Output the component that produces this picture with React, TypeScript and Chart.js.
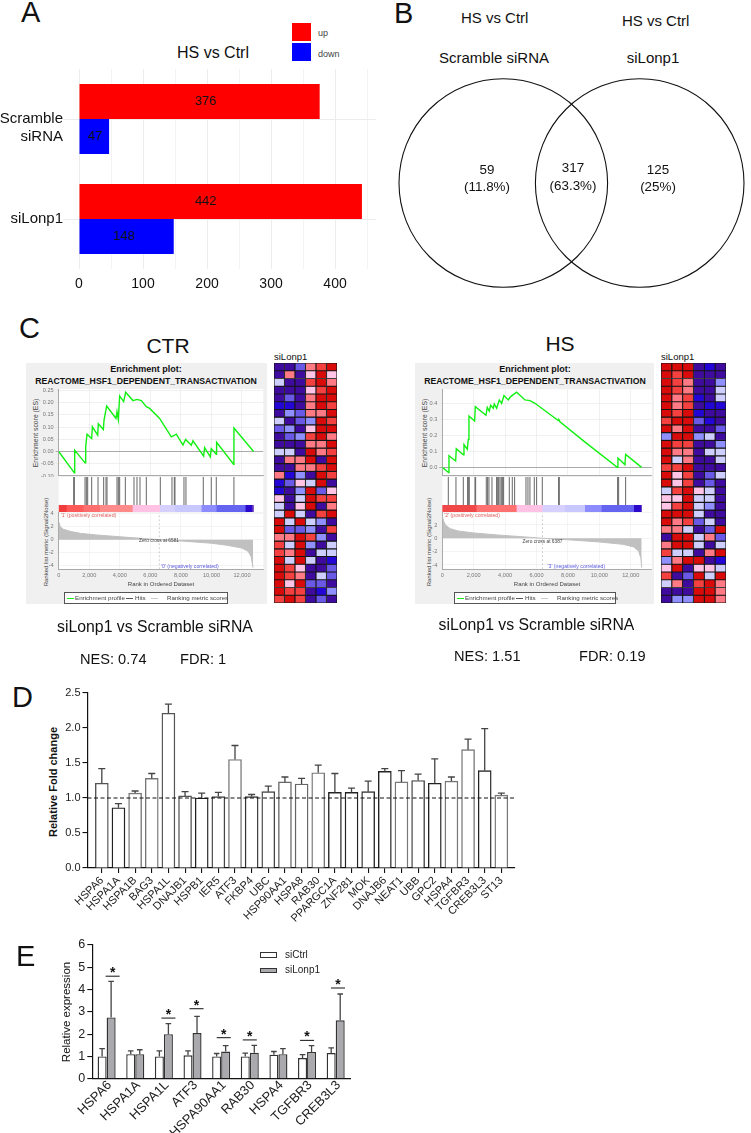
import React, { useEffect, useRef } from "react";
import { Chart, registerables } from "chart.js";

Chart.register(...registerables);

const FONT = '"Liberation Sans", Arial, sans-serif';
Chart.defaults.font.family = FONT;
Chart.defaults.animation = false as any;

// ---------- Panel A ----------
const aCategories = [["", "Scramble", "siRNA"], "siLonp1"];
const aUp = [376, 442];
const aDown = [47, 148];
const aUpLabelAt = [198, 198];
const aDownLabelAt = [25, 70];
const aTicks = [0, 50, 100, 150, 200, 250, 300, 350, 400, 450];

// ---------- Panel B ----------
const vennCenters = [0, 136.4];

// ---------- Panel C ----------
const rankTicks = [0, 2000, 4000, 6000, 8000, 10000, 12000];
const ctrMetricTicks = [-4, -2, 0, 2, 4];
const hsMetricTicks = [-4, -2, 0, 2];
const ctrEsTicks = [-0.1, -0.05, 0, 0.05, 0.1, 0.15, 0.2, 0.25];
const hsEsTicks = [0, 0.1, 0.2, 0.3, 0.4];
const ctrEsRank = [0, 1025, 1047, 1723, 1767, 1854, 2159, 2203, 2552, 2595, 2923, 2966, 3141, 3751, 3817, 3904, 3991, 4253, 4384, 4864, 5125, 5409, 5736, 5954, 6608, 7372, 7590, 7699, 8135, 8309, 8680, 8789, 9487, 9553, 9924, 9989, 10316, 10338, 11450, 11472, 12759];
const ctrEsValue = [0, -0.0874, 0.0055, -0.0464, 0.019, 0.071, 0.053, 0.101, 0.067, 0.113, 0.09, 0.127, 0.186, 0.135, 0.163, 0.131, 0.227, 0.204, 0.242, 0.208, 0.213, 0.208, 0.183, 0.176, 0.135, 0.06, 0.067, 0.071, 0.026, 0.049, 0.026, 0.044, -0.019, 0.016, -0.022, 0.012, -0.011, 0.038, -0.052, 0.096, 0];
const ctrHits = [981, 1025, 1723, 1810, 1897, 2159, 2574, 2944, 3097, 3162, 3817, 3904, 3991, 4362, 4929, 5125, 5322, 5736, 6652, 7415, 7568, 7612, 8201, 8331, 9466, 9989, 10316, 11472];
const ctrStripWidths = [502, 1090, 1090, 2137, 1788, 981, 1745, 981, 1897, 436, 109];
const ctrStripColors = ["#f03c3c", "#ff5a5a", "#ff6f6f", "#ff8a8a", "#ffc2e4", "#d6d0ff", "#c8c8ff", "#8c8cff", "#6464f0", "#2a08cc", "#7040c0"];
const ctrRankX = [0, 100, 300, 800, 1500, 2500, 4000, 6000, 6581, 8000, 10000, 11000, 12000, 12400, 12600, 12720];
const ctrRankY = [2.8, 2.0, 1.6, 1.25, 0.95, 0.72, 0.45, 0.1, 0, -0.2, -0.55, -0.85, -1.3, -1.8, -2.6, -4.3];

const hsEsRank = [0, 403, 425, 849, 892, 1337, 1380, 1592, 1656, 1698, 2059, 2102, 2781, 2866, 2993, 3078, 3248, 3312, 3460, 3630, 3779, 3928, 4204, 4352, 4734, 5265, 5583, 5902, 7388, 7430, 7494, 9193, 11146, 11188, 11634, 11677, 12695];
const hsEsValue = [0, -0.033, 0.073, 0.04, 0.117, 0.079, 0.142, 0.113, 0.175, 0.321, 0.29, 0.379, 0.325, 0.375, 0.352, 0.3875, 0.369, 0.396, 0.369, 0.421, 0.4, 0.448, 0.421, 0.442, 0.469, 0.421, 0.417, 0.4, 0.292, 0.296, 0.285, 0.15, 0, 0.058, 0.017, 0.081, 0];
const hsHits = [382, 870, 1337, 1613, 1656, 1720, 2081, 2123, 2802, 2887, 2972, 3163, 3460, 3503, 3588, 3673, 3758, 3843, 3906, 4267, 4458, 4607, 5329, 5456, 5583, 5859, 6008, 6369, 7409, 7452, 11167, 11231, 11677];
const hsStripWidths = [2165, 2548, 1635, 1444, 1274, 1062, 2059, 446, 64];
const hsStripColors = ["#f04848", "#ff7070", "#ffc2e4", "#d6d0ff", "#c8c8ff", "#8c8cff", "#6464f0", "#2a08cc", "#7040c0"];
const hsRankX = [0, 80, 200, 500, 1000, 2000, 3500, 5000, 6387, 8000, 10000, 11500, 12200, 12500, 12650, 12700];
const hsRankY = [3.4, 2.6, 2, 1.45, 1.1, 0.8, 0.5, 0.25, 0, -0.22, -0.55, -0.9, -1.3, -1.9, -3, -4.4];

const heatLevels: Record<string, string> = {
  "-4": "#3f0b9f", "-3": "#2306d6", "-2": "#6a58e6", "-1": "#8f8fff", "0": "#cfcfff",
  "1": "#ffc4e6", "2": "#ff7a84", "3": "#f54040", "4": "#d80a0a",
};
const heatCols = ["c1", "c2", "c3", "s1", "s2", "s3"];
const ctrHeat = [
  [-4, -4, -2, 2, 3, 4], [-4, 2, -4, 1, 4, 1], [0, -4, -4, 3, 4, 2], [-4, -4, -4, 1, 3, 4], [-4, -2, -4, 2, 4, 4],
  [-3, -3, -4, 2, 4, 3], [-4, -1, -2, 2, 2, 4], [0, -4, -2, -1, 4, 3], [-2, -1, -4, 1, 4, 4], [-4, -2, -1, 3, 4, 2],
  [-4, -4, -4, 2, 2, 4], [0, 0, -4, 4, 2, 3], [-4, 2, 2, 4, -4, 4], [-4, -4, 2, 2, 3, 4], [2, -3, -1, -4, 4, 3],
  [-3, -2, 1, 0, 4, -4], [-3, -4, -1, 4, -2, 1], [1, -4, 0, 4, 3, 3], [0, -4, 1, 4, -4, 2], [0, 4, 0, -4, 3, 4],
  [4, 0, 4, 0, -1, -4], [4, -2, -2, -1, -4, 3], [2, 2, 4, 3, -1, -4], [3, 0, 4, -1, -4, 0], [3, 2, 4, -4, 0, 0],
  [4, 0, 4, 0, -4, -3], [4, 3, 1, -4, -4, -2], [4, 3, 2, -4, 0, -2], [4, 1, 4, -2, -2, -4], [4, 3, 3, -4, -3, -1],
  [3, 4, 3, -4, -2, -4],
];
const hsHeat = [
  [4, 4, 4, -4, -3, -4], [4, 3, 4, -4, -4, -4], [4, 3, 2, -4, -4, -1], [4, 3, 2, -4, -4, 0], [4, 2, 3, -3, -4, 0],
  [4, 2, 3, -4, -3, -3], [4, 3, 4, -3, -4, -4], [3, 4, 4, -2, -3, -4], [4, 2, 4, -4, -4, -2], [-1, 4, 4, -1, 0, -4],
  [4, 3, 3, -4, -4, -1], [4, 2, 2, -4, 0, 0], [4, 0, 2, -4, -4, 0], [3, 3, 4, -4, -4, -4], [4, 1, 3, -4, -2, 0],
  [4, 1, 3, -4, -2, -4], [0, 3, 4, 1, 0, -4], [1, 1, 4, 0, 0, -4], [1, 3, 4, 0, -1, -4], [4, 4, 4, 0, -4, -4],
  [4, 2, 3, -2, 0, -4], [2, 2, 0, -4, -2, 4], [-4, 4, 4, 0, 2, -2], [2, 4, 4, 0, -4, 0], [3, 0, 0, -4, 2, 4],
  [-1, 2, 4, 4, -4, -3], [1, 4, -4, 1, 1, 0], [3, -4, -2, 4, 0, 4], [0, 2, -4, 3, 4, 2], [-4, -4, -4, 4, 4, 2],
  [-4, -1, -1, 4, 4, 2],
];

// ---------- Panel D ----------
const dGenes = ["HSPA6", "HSPA1A", "HSPA1B", "BAG3", "HSPA1L", "DNAJB1", "HSPB1", "IER5", "ATF3", "FKBP4", "UBC", "HSP90AA1", "HSPA8", "RAB30", "PPARGC1A", "ZNF281", "MOK", "DNAJB6", "NEAT1", "UBB", "GPC2", "HSPA4", "TGFBR3", "CREB3L3", "ST13"];
const dValues = [1.21, 0.86, 1.07, 1.28, 2.21, 1.03, 1.0, 1.02, 1.55, 1.02, 1.09, 1.23, 1.2, 1.36, 1.08, 1.08, 1.09, 1.38, 1.23, 1.25, 1.21, 1.24, 1.69, 1.39, 1.04];
const dErrTop = [1.42, 0.92, 1.1, 1.35, 2.34, 1.09, 1.07, 1.08, 1.75, 1.05, 1.17, 1.3, 1.28, 1.47, 1.35, 1.14, 1.24, 1.42, 1.39, 1.34, 1.56, 1.3, 1.84, 1.99, 1.07];
const dBorders = ["#555", "#222", "#777", "#777", "#555", "#555", "#222", "#444", "#777", "#333", "#444", "#666", "#666", "#777", "#222", "#222", "#333", "#222", "#777", "#444", "#222", "#777", "#777", "#222", "#777"];

// ---------- Panel E ----------
const eGenes = ["HSPA6", "HSPA1A", "HSPA1L", "ATF3", "HSPA90AA1", "RAB30", "HSPA4", "TGFBR3", "CREB3L3"];
const eCtrl = [1.0, 1.1, 1.0, 1.05, 1.0, 1.0, 1.08, 0.93, 1.15];
const eCtrlTop = [1.35, 1.25, 1.25, 1.25, 1.13, 1.15, 1.22, 1.08, 1.38];
const eLonp = [2.75, 1.1, 2.0, 2.05, 1.22, 1.17, 1.1, 1.2, 2.62];
const eLonpTop = [4.37, 1.3, 2.47, 2.8, 1.48, 1.5, 1.35, 1.48, 3.8];
const eSigCategory = [0, 2, 3, 4, 5, 7, 8];
const eSigOffset = [0.21, 0.16, 0.14, 0.09, 0, 0, 0.08];
const eSigLevel = [4.6, 2.72, 3.14, 1.84, 1.74, 1.72, 4.07];

// ---------- helpers ----------
const fit = (w?: number, h?: number) => ({
  afterFit: (s: any) => {
    if (w !== undefined) s.width = w;
    if (h !== undefined) s.height = h;
    s.paddingTop = 0;
    s.paddingBottom = 0;
    s.paddingLeft = 0;
    s.paddingRight = 0;
  },
});
const setTicks = (arr: number[]) => ({
  afterBuildTicks: (s: any) => { s.ticks = arr.map((value) => ({ value })); },
});

function Plot({ x, y, w, h, config }: any) {
  const ref = useRef<HTMLCanvasElement>(null);
  useEffect(() => {
    const c = new Chart(ref.current as any, config);
    return () => c.destroy();
  }, []);
  return <canvas ref={ref} width={w} height={h} style={{ position: "absolute", left: x, top: y, width: w, height: h }} />;
}

function T({ x, y, s, children, a = "c", r = 0, c = "#111", b = false }: any) {
  const tx = a === "c" ? "-50%" : a === "l" ? "0" : "-100%";
  return (
    <div style={{ position: "absolute", left: x, top: y, fontFamily: FONT, fontSize: s, color: c, fontWeight: b ? 700 : 400, whiteSpace: "pre", lineHeight: 1,
      transform: `translate(${tx},-50%) rotate(${r}deg)`, transformOrigin: a === "l" ? "left center" : "center" }}>
      {children}
    </div>
  );
}

const Box = ({ x, y, w, h, bg, border }: any) => (
  <div style={{ position: "absolute", left: x, top: y, width: w, height: h, background: bg, border: border || "none", boxSizing: "border-box" }} />
);

const plotBg = {
  id: "plotBg",
  beforeDraw(ch: any) {
    const { ctx, chartArea: a } = ch;
    ctx.save();
    ctx.fillStyle = "#fff";
    ctx.fillRect(a.left, a.top, a.width, a.height);
    ctx.restore();
  },
};

const errBars = (tops: number[][], color = "#333", cap = 3.5) => ({
  id: "errBars",
  afterDatasetsDraw(ch: any) {
    const { ctx } = ch;
    const ys = ch.scales.y;
    ctx.save();
    ctx.strokeStyle = color;
    ctx.lineWidth = 1.3;
    tops.forEach((arr, di) => {
      ch.getDatasetMeta(di).data.forEach((el: any, i: number) => {
        const t = ys.getPixelForValue(arr[i]);
        ctx.beginPath();
        ctx.moveTo(el.x, el.y);
        ctx.lineTo(el.x, t);
        ctx.moveTo(el.x - cap, t);
        ctx.lineTo(el.x + cap, t);
        ctx.stroke();
      });
    });
    ctx.restore();
  },
});

// ---------- Panel configs ----------
const commonOpts = { responsive: false, animation: false, layout: { autoPadding: false }, plugins: { legend: { display: false }, tooltip: { enabled: false } } };

const barLabels = {
  id: "barLabels",
  afterDatasetsDraw(ch: any) {
    const { ctx, scales } = ch;
    ctx.save();
    ctx.fillStyle = "#111";
    ctx.font = `13px ${FONT}`;
    ctx.textAlign = "center";
    ctx.textBaseline = "middle";
    [aUp, aDown].forEach((arr, di) => {
      const at = di === 0 ? aUpLabelAt : aDownLabelAt;
      ch.getDatasetMeta(di).data.forEach((el: any, i: number) => {
        ctx.fillText(String(arr[i]), scales.x.getPixelForValue(at[i]), el.y);
      });
    });
    ctx.restore();
  },
};

const panelA: any = {
  type: "bar",
  data: {
    labels: aCategories,
    datasets: [
      { label: "up", data: aUp, backgroundColor: "#ff0000" },
      { label: "down", data: aDown, backgroundColor: "#0000ff" },
    ],
  },
  plugins: [barLabels],
  options: {
    ...commonOpts,
    indexAxis: "y",
    layout: { autoPadding: false, padding: { top: 9, right: 14 } },
    datasets: { bar: { categoryPercentage: 0.7, barPercentage: 1 } },
    scales: {
      x: {
        min: -25, max: 464,
        ...setTicks(aTicks),
        grid: { color: (c: any) => (c.tick && c.tick.value % 100 === 0 ? "#ececec" : "#f3f3f3"), tickLength: 0 },
        border: { display: false },
        ticks: { autoSkip: false, maxRotation: 0, padding: 7, color: "#111", font: { size: 14 }, callback: (v: any) => (v % 100 === 0 ? String(v) : "") },
        ...fit(undefined, 26),
      },
      y: {
        grid: { offset: false, color: "#ececec", tickLength: 0 },
        border: { display: false },
        ticks: { padding: 0, color: "#111", font: { size: 15 } },
        ...fit(63),
      },
    },
  },
};

const panelB: any = {
  type: "scatter",
  data: {
    datasets: [{
      label: "HS vs Ctrl",
      data: vennCenters.map((x) => ({ x, y: 0 })),
      pointRadius: 104.3, borderColor: "#111", borderWidth: 1.1, backgroundColor: "transparent", clip: false,
    }],
  },
  options: {
    ...commonOpts,
    scales: { x: { display: false, min: -113.3, max: 247.7 }, y: { display: false, min: -117, max: 113 } },
  },
};

function esConfig(rank: number[], es: number[], l: number, pr: number, xMax: number, yMin: number, yMax: number, yTicks: number[], dec: number, top: number): any {
  const isZero = (c: any) => Math.abs(c.tick?.value) < 1e-6;
  return {
    type: "scatter",
    data: { datasets: [{ data: rank.map((x, i) => ({ x, y: es[i] })), showLine: true, pointRadius: 0, borderColor: "#12f012", borderWidth: 1.4 }] },
    plugins: [plotBg],
    options: {
      ...commonOpts,
      layout: { autoPadding: false, padding: { top, right: pr, bottom: 1 } },
      scales: {
        x: { min: 0, max: xMax, ...setTicks(rankTicks), ticks: { display: false }, grid: { color: "#e6e6e6", lineWidth: 0.6, tickLength: 0 }, border: { color: "#aaa" }, ...fit(undefined, 0.01) },
        y: {
          min: yMin, max: yMax,
          ...setTicks(yTicks),
          ticks: { padding: 2, color: "#777", font: { size: 5.6 }, callback: (v: any) => Number(v).toFixed(dec) },
          grid: { color: (c: any) => (isZero(c) ? "#aaa" : "#e6e6e6"), lineWidth: (c: any) => (isZero(c) ? 1 : 0.6), tickLength: 3 },
          border: { color: "#aaa" },
          ...fit(l),
        },
      },
    },
  };
}

function hitsConfig(hits: number[], l: number, pr: number, xMax: number): any {
  return {
    type: "bar",
    data: { datasets: [{ data: hits.map((x) => ({ x, y: 1 })), backgroundColor: "#666", barThickness: 1, inflateAmount: 0 }] },
    plugins: [plotBg],
    options: { ...commonOpts, layout: { autoPadding: false, padding: { left: l, right: pr } }, scales: { x: { type: "linear", offset: false, display: false, min: 0, max: xMax }, y: { display: false, min: 0, max: 1 } } },
  };
}

function stripConfig(widths: number[], colors: string[], l: number, pr: number, xMax: number): any {
  return {
    type: "bar",
    data: { labels: ["rank"], datasets: widths.map((v, i) => ({ data: [v], backgroundColor: colors[i], categoryPercentage: 1, barPercentage: 1 })) },
    plugins: [plotBg],
    options: { ...commonOpts, indexAxis: "y", layout: { autoPadding: false, padding: { left: l, right: pr } }, scales: { x: { stacked: true, display: false, min: 0, max: xMax }, y: { stacked: true, display: false } } },
  };
}

function rankConfig(xs: number[], ys: number[], zero: number, l: number, pr: number, xMax: number, yMin: number, yMax: number, yTicks: number[]): any {
  return {
    type: "scatter",
    data: {
      datasets: [
        { data: xs.map((x, i) => ({ x, y: ys[i] })), showLine: true, pointRadius: 0, borderColor: "#c0c0c0", borderWidth: 1, backgroundColor: "#c0c0c0", fill: "origin" },
        { data: [{ x: zero, y: yMin }, { x: zero, y: yMax }], showLine: true, pointRadius: 0, borderColor: "#bbb", borderWidth: 0.7, borderDash: [2, 2] },
      ],
    },
    plugins: [plotBg],
    options: {
      ...commonOpts,
      layout: { autoPadding: false, padding: { top: 4.7, right: pr } },
      scales: {
        x: { min: 0, max: xMax, ...setTicks(rankTicks), ticks: { autoSkip: false, color: "#777", font: { size: 5.6 }, padding: 1, maxRotation: 0, callback: (v: any) => Number(v).toLocaleString("en-US") },
          grid: { color: "#ececec", lineWidth: 0.6, tickLength: 2 }, border: { color: "#aaa" }, ...fit(undefined, 12.7) },
        y: { min: yMin, max: yMax,
          ...setTicks(yTicks),
          ticks: { padding: 2, color: "#777", font: { size: 5.6 } },
          grid: { color: "#ececec", lineWidth: 0.6, tickLength: 3 }, border: { color: "#aaa" }, ...fit(l) },
      },
    },
  };
}

function heatConfig(heat: number[][]): any {
  return {
    type: "bar",
    data: {
      labels: heatCols,
      datasets: heat.map((row) => ({
        data: row.map(() => 1),
        backgroundColor: row.map((v) => heatLevels[String(v)]),
        borderColor: "#151515", borderWidth: 0.9, borderSkipped: false, categoryPercentage: 1, barPercentage: 1,
      })),
    },
    options: { ...commonOpts, scales: { x: { stacked: true, display: false }, y: { stacked: true, display: false, reverse: true, min: 0, max: heat.length } } },
  };
}

const panelD: any = {
  data: {
    labels: dGenes,
    datasets: [
      { type: "bar", data: dValues.map((y, x) => ({ x, y })), backgroundColor: "#fff", borderColor: dBorders, borderWidth: 1.4, barThickness: 13, order: 2 },
      { type: "line", data: [{ x: -0.86, y: 1 }, { x: 24.82, y: 1 }], borderColor: "#111", borderWidth: 1.1, borderDash: [4, 2.5], pointRadius: 0, order: 1 },
    ],
  },
  plugins: [errBars([dErrTop], "#444")],
  options: {
    ...commonOpts,
    layout: { autoPadding: false, padding: { top: 8, right: 15 } },
    scales: {
      x: {
        type: "linear", offset: false, min: -0.86, max: 24.82,
        afterBuildTicks: (s: any) => { s.ticks = dGenes.map((_, i) => ({ value: i })); },
        ticks: { autoSkip: false, minRotation: 45, maxRotation: 45, padding: 1, color: "#222", font: { size: 11 }, callback: (v: any) => dGenes[v] },
        grid: { offset: false, drawOnChartArea: false, color: "#111", tickLength: 5, lineWidth: 1.1 },
        border: { color: "#111", width: 1.2 },
        ...fit(undefined, 72),
      },
      y: {
        min: 0, max: 2.5,
        ticks: { stepSize: 0.5, padding: 2, color: "#222", font: { size: 11 }, callback: (v: any) => Number(v).toFixed(1) },
        grid: { drawOnChartArea: false, color: "#111", tickLength: 5, lineWidth: 1.1 },
        border: { color: "#111", width: 1.2 },
        ...fit(87.5),
      },
    },
  },
};

const sigMarks = {
  id: "sigMarks",
  afterDatasetsDraw(ch: any) {
    const { ctx, scales } = ch;
    const band = scales.x.getPixelForValue(1) - scales.x.getPixelForValue(0);
    ctx.save();
    ctx.strokeStyle = "#111";
    ctx.fillStyle = "#111";
    ctx.lineWidth = 1;
    ctx.font = `bold 14px ${FONT}`;
    ctx.textAlign = "center";
    ctx.textBaseline = "middle";
    eSigCategory.forEach((c, i) => {
      const cx = scales.x.getPixelForValue(c) + eSigOffset[i] * band;
      const y = scales.y.getPixelForValue(eSigLevel[i]);
      ctx.beginPath();
      ctx.moveTo(cx - 0.245 * band, y);
      ctx.lineTo(cx + 0.245 * band, y);
      ctx.stroke();
      ctx.fillText("*", cx, y - 3);
    });
    ctx.restore();
  },
};

const panelE: any = {
  type: "bar",
  data: {
    labels: eGenes,
    datasets: [
      { label: "siCtrl", data: eCtrl, backgroundColor: "#fff", borderColor: "#333", borderWidth: 1.4 },
      { label: "siLonp1", data: eLonp, backgroundColor: "#a9a9ae", borderColor: "#333", borderWidth: 1.4 },
    ],
  },
  plugins: [errBars([eCtrlTop, eLonpTop], "#444", 2.8), sigMarks],
  options: {
    ...commonOpts,
    layout: { autoPadding: false, padding: { top: 8, right: 12 } },
    datasets: { bar: { categoryPercentage: 0.63, barPercentage: 1 } },
    scales: {
      x: {
        ticks: { autoSkip: false, minRotation: 45, maxRotation: 45, padding: -9, labelOffset: 3, color: "#222", font: { size: 13 } },
        grid: { display: false },
        border: { color: "#111", width: 1.2 },
        ...fit(undefined, 54.3),
      },
      y: {
        min: 0, max: 6,
        ticks: { stepSize: 1, padding: 2, color: "#222", font: { size: 12.5 } },
        grid: { drawOnChartArea: false, color: "#111", tickLength: 5, lineWidth: 1.1 },
        border: { color: "#111", width: 1.2 },
        ...fit(92.3),
      },
    },
  },
};

function Gsea({ o }: any) {
  const { left, right, px0, pTop, pBot, xMax } = o;
  const cw = Math.ceil(right - left) + 1;
  const pr = left + cw - right;
  const l = px0 - left;
  return (
    <>
      <Box x={pTop} y={363} w={pBot - pTop} h={241} bg="#f0f0f0" />
      <T x={o.titleX} y={369} s={9} b>Enrichment plot:</T>
      <T x={o.titleX} y={381} s={8.7} b>REACTOME_HSF1_DEPENDENT_TRANSACTIVATION</T>
      <T x={o.esTitleX} y={433} s={6.8} r={-90} c="#444">Enrichment score (ES)</T>
      <T x={o.rankTitleX} y={542} s={6} r={-90} c="#444">{o.rankTitle}</T>
      <Plot x={left} y={385} w={cw} h={92} config={esConfig(o.esX, o.esY, l, pr, xMax, o.esMin, o.esMax, o.esTicks, o.esDec, o.esTop)} />
      <Plot x={left} y={477} w={cw} h={28} config={hitsConfig(o.hits, l, pr, xMax)} />
      <Plot x={left} y={505} w={cw} h={7} config={stripConfig(o.sw, o.sc, l, pr, xMax)} />
      <Plot x={left} y={508} w={cw} h={74} config={rankConfig(o.rx, o.ry, o.zero, l, pr, xMax, o.rMin, o.rMax, o.rTicks)} />
      <T x={px0 + 2} y={516} s={5.2} a="l" c="#e06060">{o.posLabel}</T>
      <T x={o.zeroX} y={o.zeroY} s={4.8} c="#444">{o.zeroLabel}</T>
      <T x={o.negX} y={567} s={5.2} a="l" c="#5a5ae0">{o.negLabel}</T>
      <T x={o.rankXX} y={584} s={6} c="#444">Rank in Ordered Dataset</T>
      <Box x={o.legX} y={592} w={o.legW} h={11.5} bg="#fff" border="1px solid #555" />
      <div style={{ position: "absolute", left: o.legX + 2.5, top: 597.5, width: 7, height: 1.2, background: "#12f012" }} />
      <T x={o.legX + 11} y={597.8} s={6.2} a="l" c="#444">Enrichment profile</T>
      <div style={{ position: "absolute", left: o.legX + 62, top: 597.5, width: 7, height: 1, background: "#555" }} />
      <T x={o.legX + 71} y={597.8} s={6.2} a="l" c="#444">Hits</T>
      <div style={{ position: "absolute", left: o.legX + 87, top: 597.5, width: 7, height: 1, background: "#ccc" }} />
      <T x={o.legX + 103} y={597.8} s={6.2} a="l" c="#444">Ranking metric scores</T>
    </>
  );
}

const ctrPanel = {
  left: 28, right: 263.3, px0: 58.7, pTop: 26, pBot: 267, xMax: 13395, titleX: 146,
  esX: ctrEsRank, esY: ctrEsValue, esMin: -0.1, esMax: 0.2553, esTicks: ctrEsTicks, esDec: 2, esTop: 4,
  hits: ctrHits, sw: ctrStripWidths, sc: ctrStripColors, rx: ctrRankX, ry: ctrRankY, zero: 6581, rMin: -4.56, rMax: 4.15, rTicks: ctrMetricTicks,
  esTitleX: 36, rankTitleX: 45.6, rankTitle: "Ranked list metric (Signal2Noise)",
  posLabel: "'1' (positively correlated)", negLabel: "'0' (negatively correlated)", negX: 161,
  zeroLabel: "Zero cross at 6581", zeroX: 159, zeroY: 541, rankXX: 161, legX: 64, legW: 164,
};
const hsPanel = {
  left: 412, right: 651.7, px0: 442.3, pTop: 415, pBot: 654, xMax: 13338, titleX: 535,
  esX: hsEsRank, esY: hsEsValue, esMin: -0.054, esMax: 0.4875, esTicks: hsEsTicks, esDec: 1, esTop: 4.3,
  hits: hsHits, sw: hsStripWidths, sc: hsStripColors, rx: hsRankX, ry: hsRankY, zero: 6387, rMin: -4.65, rMax: 3.84, rTicks: hsMetricTicks,
  esTitleX: 425, rankTitleX: 429, rankTitle: "Ranked list metric (Signal2Noise)",
  posLabel: "'2' (positively correlated)", negLabel: "'3' (negatively correlated)", negX: 547.5,
  zeroLabel: "Zero cross at 6387", zeroX: 542.5, zeroY: 542, rankXX: 547, legX: 454, legW: 162,
};

export default function App() {
  return (
    <div style={{ position: "absolute", left: 0, top: 0, width: 751, height: 1133, overflow: "hidden", background: "#fff" }}>
      {/* A */}
      <T x={21} y={12} s={29} a="l">A</T>
      <T x={213} y={53} s={16}>HS vs Ctrl</T>
      <Box x={292} y={23} w={19} h={18} bg="#ff0000" />
      <Box x={292} y={43} w={19} h={18} bg="#0000ff" />
      <T x={318} y={33} s={9} a="l" c="#444">up</T>
      <T x={318} y={54} s={9} a="l" c="#444">down</T>
      <Plot x={0} y={60} w={390} h={235} config={panelA} />

      {/* B */}
      <T x={394} y={13} s={29} a="l">B</T>
      <T x={494.7} y={17} s={15}>HS vs Ctrl</T>
      <T x={655.7} y={20} s={15}>HS vs Ctrl</T>
      <T x={494} y={57} s={15}>Scramble siRNA</T>
      <T x={653} y={57} s={15}>siLonp1</T>
      <Plot x={390} y={70} w={361} h={230} config={panelB} />
      <T x={487} y={170} s={13.4}>59</T>
      <T x={487} y={187} s={13.4}>(11.8%)</T>
      <T x={573} y={168} s={13.4}>317</T>
      <T x={573} y={186} s={13.4}>(63.3%)</T>
      <T x={658} y={170} s={13.4}>125</T>
      <T x={658} y={187} s={13.4}>(25%)</T>

      {/* C */}
      <T x={19} y={328} s={29} a="l">C</T>
      <T x={168} y={345} s={21}>CTR</T>
      <T x={560} y={343} s={21}>HS</T>
      <Gsea o={ctrPanel} />
      <Gsea o={hsPanel} />
      <T x={274} y={357} s={9.5} a="l">siLonp1</T>
      <T x={661} y={357} s={9.5} a="l">siLonp1</T>
      <Plot x={274} y={363} w={63} h={240} config={heatConfig(ctrHeat)} />
      <Plot x={661} y={363} w={65} h={240} config={heatConfig(hsHeat)} />
      <T x={155} y={627} s={15.8}>siLonp1 vs Scramble siRNA</T>
      <T x={80} y={659} s={14.6} a="l">NES: 0.74</T>
      <T x={180} y={659} s={14.6} a="l">FDR: 1</T>
      <T x={536.5} y={625} s={15.8}>siLonp1 vs Scramble siRNA</T>
      <T x={454} y={656} s={14.6} a="l">NES: 1.51</T>
      <T x={579} y={656} s={14.6} a="l">FDR: 0.19</T>

      {/* D */}
      <T x={12} y={697} s={29} a="l">D</T>
      <T x={52.5} y={782} s={11} b r={-90}>Relative Fold change</T>
      <Plot x={0} y={685} w={530} h={255} config={panelD} />

      {/* E */}
      <T x={16} y={956} s={29} a="l">E</T>
      <T x={66.7} y={1012} s={11.5} r={-90}>Relative expression</T>
      <Plot x={0} y={937} w={362} h={196} config={panelE} />
      <Box x={260} y={952} w={17} h={5.5} bg="#fff" border="1px solid #333" />
      <Box x={260} y={967.5} w={17} h={5.5} bg="#a9a9ae" border="1px solid #333" />
      <T x={285} y={954.5} s={10} a="l" c="#222">siCtrl</T>
      <T x={285} y={970} s={10} a="l" c="#222">siLonp1</T>
    </div>
  );
}
